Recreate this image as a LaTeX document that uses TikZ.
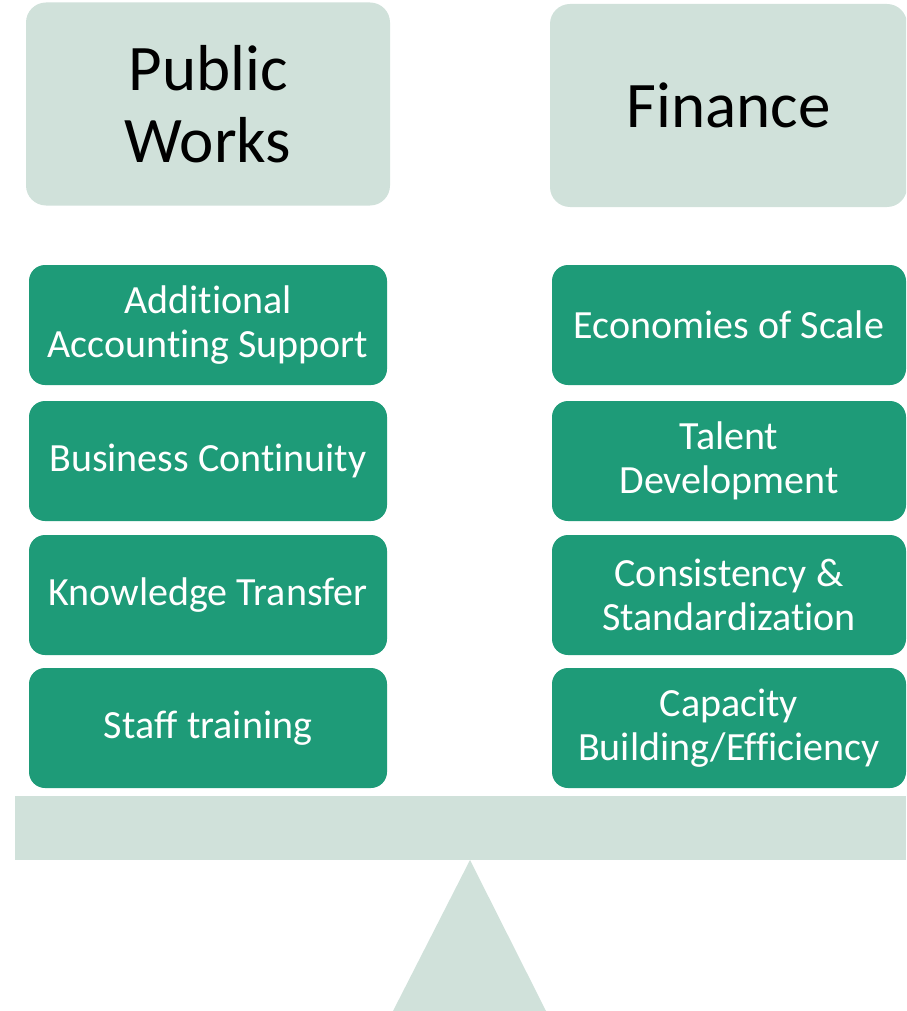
\documentclass[tikz,border=0pt]{standalone}
\usepackage{fontspec}
\setmainfont[Ligatures=NoCommon]{Carlito}
\definecolor{lightgreen}{HTML}{D0E1DA}
\definecolor{teal}{HTML}{1E9B78}
\begin{document}
\begin{tikzpicture}[x=1pt,y=-1pt,
  topbox/.style={fill=lightgreen, draw=none, rounded corners=20pt, inner sep=0pt,
    minimum width=360pt, minimum height=203pt, align=center,
    font=\fontsize{65}{72}\selectfont, text=black},
  greenbox/.style={fill=teal, draw=none, rounded corners=16pt, inner sep=0pt,
    minimum width=356pt, minimum height=120pt, align=center,
    font=\fontsize{40}{43.5}\selectfont, text=white},
  basefill/.style={fill=lightgreen, draw=none}]
\useasboundingbox (0,0) rectangle (906,1011);
\clip (0,0) rectangle (906,1011);
% headers
\node[topbox, minimum width=364pt] (pw) at (208,104) {Public\\Works};
\node[topbox, minimum width=357pt] (fin) at (728.5,105.5) {Finance};
% left column
\node[greenbox, minimum width=358pt] (l1) at (208,325) {Additional\\Accounting Support};
\node[greenbox, minimum width=358pt] (l2) at (208,461) {Business Continuity};
\node[greenbox, minimum width=358pt] (l3) at (208,595) {Knowledge Transfer};
\node[greenbox, minimum width=358pt] (l4) at (208,728) {Staff training};
% right column
\node[greenbox, minimum width=354pt] (r1) at (729,325) {Economies of Scale};
\node[greenbox, minimum width=354pt] (r2) at (729,461) {Talent\\Development};
\node[greenbox, minimum width=354pt] (r3) at (729,595) {Consistency \&\\Standardization};
\node[greenbox, minimum width=354pt] (r4) at (729,728) {Capacity\\Building/Efficiency};
% beam and fulcrum
\fill[basefill] (15,796) rectangle (906,860);
\fill[basefill] (470,860) -- (546,1011) -- (393,1011) -- cycle;
\end{tikzpicture}
\end{document}
